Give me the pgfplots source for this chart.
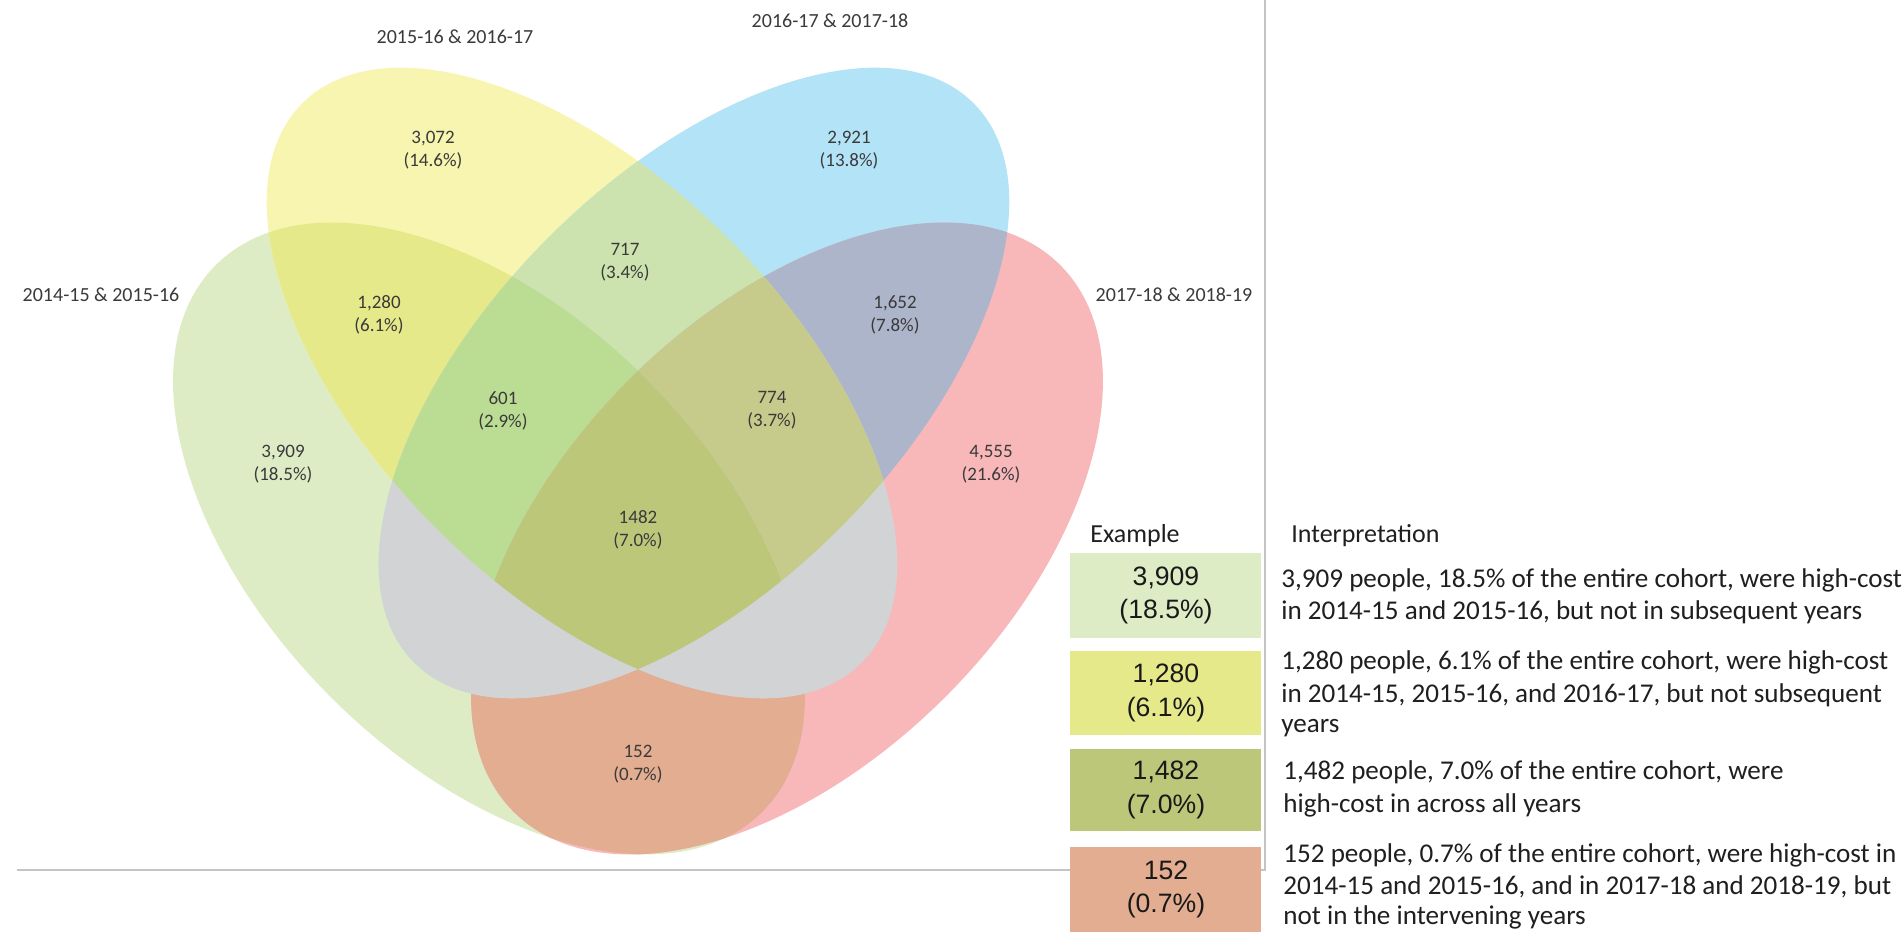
\documentclass[border=0pt]{standalone}
\usepackage{pgfplots}
\pgfplotsset{compat=1.18}
\usepackage{fontspec}
\setmainfont{Carlito}
\newfontfamily\arialf{Liberation Sans}
\definecolor{cA}{HTML}{DDECC5}
\definecolor{cB}{HTML}{F8F5B0}
\definecolor{cC}{HTML}{B3E3F7}
\definecolor{cD}{HTML}{F8B8BA}
\definecolor{cAB}{HTML}{E6E98A}
\definecolor{cBC}{HTML}{CDE3AF}
\definecolor{cCD}{HTML}{ACB5CA}
\definecolor{cAD}{HTML}{E2AD90}
\definecolor{cABC}{HTML}{BBDC93}
\definecolor{cBCD}{HTML}{C6CB8B}
\definecolor{cABCD}{HTML}{BCC77A}
\definecolor{cGray}{HTML}{D1D3D4}
\definecolor{vtext}{HTML}{3A3A3A}
\definecolor{rule}{HTML}{C4C4C4}
\tikzset{
  eA/.style={rotate around={-45:(axis cs:489,396.5)}},
  eB/.style={rotate around={-45:(axis cs:582,552)}},
  eC/.style={rotate around={45:(axis cs:694,552)}},
  eD/.style={rotate around={45:(axis cs:787,396.5)}},
  vlab/.style={font=\fontsize{9.5pt}{11.5pt}\selectfont, text=vtext, align=center, inner sep=0pt},
  slab/.style={font=\fontsize{10pt}{12pt}\selectfont, text=vtext, align=center, inner sep=0pt},
  blab/.style={font=\arialf\fontsize{13.3pt}{16.8pt}\selectfont, text=black!90, align=center, inner sep=0pt},
  itext/.style={font=\fontsize{13.55pt}{16.5pt}\selectfont, text=black!88, anchor=base west, inner sep=0pt},
}
\newcommand{\pA}{(axis cs:489,396.5) ellipse [x radius=193.25pt, y radius=112pt]}
\newcommand{\pB}{(axis cs:582,552) ellipse [x radius=197.75pt, y radius=102.85pt]}
\newcommand{\pC}{(axis cs:694,552) ellipse [x radius=197.75pt, y radius=102.85pt]}
\newcommand{\pD}{(axis cs:787,396.5) ellipse [x radius=193.25pt, y radius=112pt]}
\begin{document}
\begin{tikzpicture}
\begin{axis}[
  x=0.5pt, y=0.5pt,
  xmin=0, xmax=1903, ymin=0, ymax=935,
  hide axis, clip=false,
]
\addplot[draw=none] coordinates {(0,0) (1903,935)};
\coordinate (SW) at (axis cs:0,0);
\coordinate (NE) at (axis cs:1903,935);
\fill[white] (axis cs:0,0) rectangle (axis cs:1903,935);
% single sets
\fill[cA, eA] \pA;
\fill[cB, eB] \pB;
\fill[cC, eC] \pC;
\fill[cD, eD] \pD;
% pairs
\begin{scope}\clip[eA] \pA; \fill[cAB, eB] \pB;\end{scope}
\begin{scope}\clip[eB] \pB; \fill[cBC, eC] \pC;\end{scope}
\begin{scope}\clip[eC] \pC; \fill[cCD, eD] \pD;\end{scope}
\begin{scope}\clip[eA] \pA; \fill[cAD, eD] \pD;\end{scope}
\begin{scope}\clip[eA] \pA; \fill[cGray, eC] \pC;\end{scope}
\begin{scope}\clip[eB] \pB; \fill[cGray, eD] \pD;\end{scope}
% triples
\begin{scope}\clip[eA] \pA; \clip[eB] \pB; \fill[cABC, eC] \pC;\end{scope}
\begin{scope}\clip[eB] \pB; \clip[eC] \pC; \fill[cBCD, eD] \pD;\end{scope}
\begin{scope}\clip[eA] \pA; \clip[eB] \pB; \fill[cGray, eD] \pD;\end{scope}
\begin{scope}\clip[eA] \pA; \clip[eC] \pC; \fill[cGray, eD] \pD;\end{scope}
% all four
\begin{scope}\clip[eA] \pA; \clip[eB] \pB; \clip[eC] \pC; \fill[cABCD, eD] \pD;\end{scope}
% set names
\node[slab] at (axis cs:455,898) {2015-16 \& 2016-17};
\node[slab] at (axis cs:830,914) {2016-17 \& 2017-18};
\node[slab] at (axis cs:101,640) {2014-15 \& 2015-16};
\node[slab] at (axis cs:1174,640) {2017-18 \& 2018-19};
% region counts
\node[vlab] at (axis cs:433,784.5) {3,072\\(14.6\%)};
\node[vlab] at (axis cs:849,784.5) {2,921\\(13.8\%)};
\node[vlab] at (axis cs:625,672.5) {717\\(3.4\%)};
\node[vlab] at (axis cs:379,620) {1,280\\(6.1\%)};
\node[vlab] at (axis cs:895,620) {1,652\\(7.8\%)};
\node[vlab] at (axis cs:503,524.5) {601\\(2.9\%)};
\node[vlab] at (axis cs:772,524.5) {774\\(3.7\%)};
\node[vlab] at (axis cs:283,470.5) {3,909\\(18.5\%)};
\node[vlab] at (axis cs:991,470.5) {4,555\\(21.6\%)};
\node[vlab] at (axis cs:638,405.5) {1482\\(7.0\%)};
\node[vlab] at (axis cs:638,170.5) {152\\(0.7\%)};
% frame lines
\draw[rule, line width=0.7pt] (axis cs:1265,935) -- (axis cs:1265,65) -- (axis cs:17,65);
% legend
\node[font=\fontsize{13pt}{15pt}\selectfont, anchor=base west, inner sep=0pt, text=black!88] at (axis cs:1090,392) {Example};
\node[font=\fontsize{13pt}{15pt}\selectfont, anchor=base west, inner sep=0pt, text=black!88] at (axis cs:1291,392) {Interpretation};
\fill[cA] (axis cs:1070,297) rectangle (axis cs:1261,382);
\fill[cAB] (axis cs:1070,200) rectangle (axis cs:1261,284);
\fill[cABCD] (axis cs:1070,104) rectangle (axis cs:1261,186);
\fill[cAD] (axis cs:1070,3) rectangle (axis cs:1261,88);
\node[blab] at (axis cs:1166,339.5) {3,909\\(18.5\%)};
\node[blab] at (axis cs:1166,242) {1,280\\(6.1\%)};
\node[blab] at (axis cs:1166,145) {1,482\\(7.0\%)};
\node[blab] at (axis cs:1166,45.5) {152\\(0.7\%)};
\node[itext] at (axis cs:1281,347) {3,909 people, 18.5\% of the entire cohort, were high-cost};
\node[itext] at (axis cs:1281,315) {in 2014-15 and 2015-16, but not in subsequent years};
\node[itext] at (axis cs:1281,265) {1,280 people, 6.1\% of the entire cohort, were high-cost};
\node[itext] at (axis cs:1281,232) {in 2014-15, 2015-16, and 2016-17, but not subsequent};
\node[itext] at (axis cs:1281,202) {years};
\node[itext] at (axis cs:1283,155) {1,482 people, 7.0\% of the entire cohort, were};
\node[itext] at (axis cs:1283,122) {high-cost in across all years};
\node[itext] at (axis cs:1283,72) {152 people, 0.7\% of the entire cohort, were high-cost in};
\node[itext] at (axis cs:1283,40) {2014-15 and 2015-16, and in 2017-18 and 2018-19, but};
\node[itext] at (axis cs:1283,10) {not in the intervening years};
\end{axis}
\pgfresetboundingbox
\path[use as bounding box] (SW) rectangle (NE);
\end{tikzpicture}
\end{document}
